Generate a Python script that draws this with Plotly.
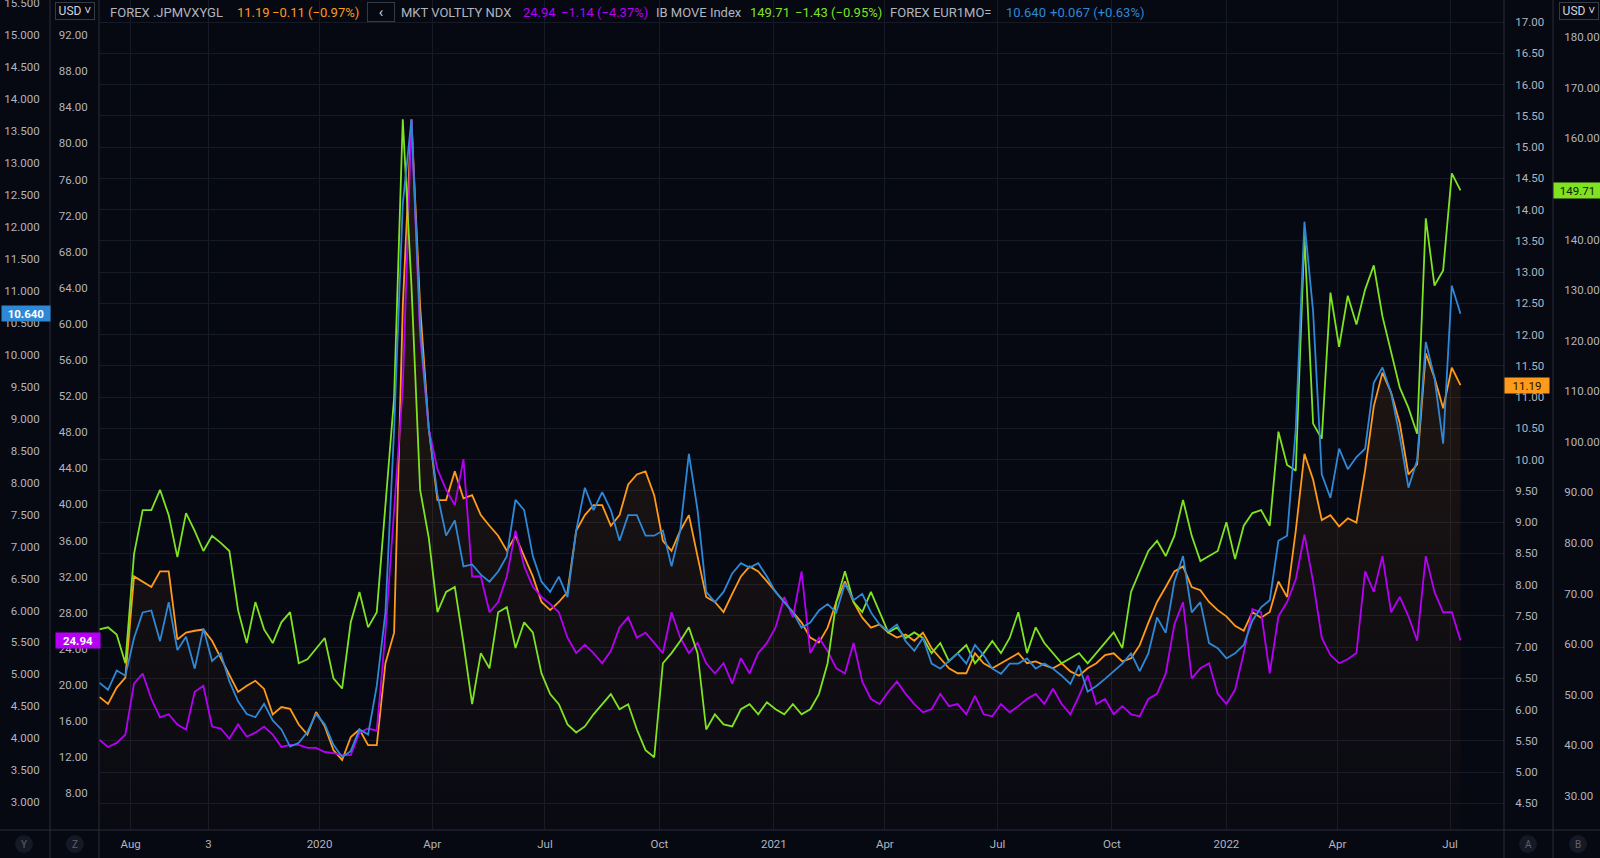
import pandas as pd
import plotly.graph_objects as go

# ---------------- data (weekly samples) ----------------
dates = pd.date_range("2019-07-08", periods=158, freq="7D")

jpmvxygl = [6.20, 6.09, 6.35, 6.51, 8.13, 8.05, 7.96, 8.21, 8.21, 7.12, 7.23, 7.26, 7.28, 7.10, 6.82, 6.54, 6.28, 6.38, 6.46, 6.33,
            5.92, 6.04, 6.01, 5.76, 5.60, 5.96, 5.73, 5.35, 5.19, 5.56, 5.68, 5.43, 5.43, 6.74, 7.23, 12.45, 15.44, 12.45, 10.49, 9.35,
            9.35, 9.81, 9.38, 9.43, 9.11, 8.94, 8.78, 8.54, 8.78, 8.45, 8.13, 7.72, 7.59, 7.72, 7.88, 8.86, 9.11, 9.27, 9.27, 8.94,
            9.11, 9.60, 9.76, 9.81, 9.43, 8.70, 8.54, 8.86, 9.11, 8.45, 7.80, 7.72, 7.56, 7.85, 8.13, 8.29, 8.21, 8.05, 7.88, 7.72,
            7.56, 7.39, 7.15, 7.07, 7.31, 7.72, 8.05, 7.72, 7.47, 7.31, 7.36, 7.23, 7.15, 7.20, 7.10, 7.23, 6.98, 6.82, 6.66, 6.58,
            6.58, 6.90, 6.74, 6.66, 6.74, 6.82, 6.90, 6.74, 6.77, 6.71, 6.66, 6.74, 6.61, 6.54, 6.66, 6.74, 6.87, 6.90, 6.77, 6.82,
            7.03, 7.39, 7.72, 7.96, 8.21, 8.29, 7.96, 7.91, 7.72, 7.59, 7.49, 7.34, 7.26, 7.56, 7.47, 7.56, 8.05, 7.80, 8.86, 10.09,
            9.68, 9.03, 9.11, 8.93, 9.06, 8.99, 9.83, 10.85, 11.39, 11.07, 10.58, 9.76, 9.92, 11.70, 11.31, 10.82, 11.47, 11.19]

ndx_vol = [13.93, 13.14, 13.59, 14.50, 20.15, 21.28, 18.45, 16.42, 16.76, 15.63, 15.06, 19.25, 19.92, 15.40, 15.18, 14.05, 15.63, 14.27, 14.72, 15.40,
           14.50, 13.14, 13.37, 13.37, 13.03, 13.03, 12.58, 12.46, 12.24, 12.24, 14.72, 15.18, 14.95, 25.80, 39.36, 52.93, 82.66, 58.58, 48.41, 43.89,
           41.63, 39.93, 45.02, 32.02, 32.02, 28.06, 29.19, 32.02, 37.10, 33.15, 30.89, 29.76, 28.97, 28.06, 25.24, 23.54, 24.45, 23.54, 22.41, 23.77,
           26.37, 27.50, 25.24, 25.80, 24.67, 23.54, 28.06, 25.24, 23.54, 24.67, 22.41, 21.28, 22.41, 20.15, 22.98, 21.28, 23.54, 24.67, 26.37, 29.76,
           27.50, 32.58, 23.54, 25.24, 23.77, 21.85, 21.28, 24.67, 20.38, 18.45, 17.89, 19.25, 20.38, 19.02, 17.89, 16.98, 17.32, 19.02, 17.66, 17.89,
           16.76, 18.79, 16.76, 16.53, 17.89, 16.98, 17.66, 18.45, 19.02, 17.89, 19.58, 17.89, 16.76, 18.79, 21.05, 17.89, 18.45, 16.76, 17.66, 16.76,
           16.53, 18.45, 19.02, 21.28, 26.71, 29.19, 20.72, 21.85, 22.41, 19.02, 17.89, 19.47, 23.54, 28.40, 28.06, 21.28, 27.61, 29.19, 31.68, 36.65,
           31.45, 25.24, 23.32, 22.41, 22.86, 23.54, 32.58, 30.32, 34.28, 28.06, 29.76, 27.61, 24.90, 34.28, 30.32, 28.06, 28.06, 24.94]

move_idx = [62.9, 63.3, 61.9, 56.2, 77.8, 86.5, 86.5, 90.5, 85.5, 77.2, 85.9, 82.4, 78.4, 81.4, 80.0, 78.4, 66.7, 60.2, 68.3, 62.9,
            60.2, 64.3, 66.3, 56.2, 57.0, 59.2, 61.2, 53.2, 51.2, 64.3, 70.3, 63.3, 66.3, 87.5, 108.7, 163.8, 130.9, 90.5, 81.0, 66.3,
            70.3, 71.3, 60.2, 48.1, 58.2, 55.2, 66.3, 67.3, 59.2, 64.3, 62.3, 54.2, 50.1, 48.1, 44.1, 42.5, 43.7, 46.1, 48.1, 50.1,
            47.1, 48.1, 43.1, 39.0, 37.6, 56.2, 58.2, 60.6, 63.3, 58.2, 43.1, 46.1, 44.1, 43.7, 47.1, 48.1, 46.1, 48.5, 47.1, 46.1,
            48.1, 46.1, 47.1, 50.1, 56.2, 68.3, 74.4, 68.3, 66.3, 70.3, 66.3, 62.3, 63.3, 61.2, 62.3, 61.2, 58.2, 60.2, 56.6, 58.2,
            59.8, 56.2, 58.2, 60.6, 58.2, 61.2, 66.3, 58.2, 63.3, 60.2, 58.2, 56.2, 57.2, 58.2, 56.2, 58.2, 60.2, 62.3, 59.2, 70.3,
            74.4, 78.4, 80.4, 77.4, 81.4, 88.5, 81.4, 76.4, 77.4, 78.4, 84.1, 76.8, 83.4, 85.9, 86.5, 83.4, 102.0, 95.4, 94.3, 140.8,
            103.6, 100.6, 129.5, 118.8, 128.9, 123.2, 130.1, 134.9, 124.8, 117.6, 110.7, 106.7, 101.6, 144.2, 130.9, 133.9, 153.1, 149.71]

eur1mo = [4.87, 4.76, 5.06, 4.98, 5.57, 5.97, 6.00, 5.52, 6.13, 5.38, 5.59, 5.09, 5.72, 5.21, 5.33, 4.89, 4.58, 4.38, 4.33, 4.54,
          4.28, 4.14, 3.87, 3.93, 4.10, 4.38, 4.22, 3.90, 3.71, 3.80, 4.14, 4.06, 4.82, 5.97, 8.84, 12.36, 13.68, 10.44, 8.84, 7.81,
          7.17, 7.41, 6.69, 6.72, 6.56, 6.45, 6.61, 6.85, 7.73, 7.57, 6.85, 6.45, 6.29, 6.53, 6.21, 7.25, 7.92, 7.57, 7.85, 7.57,
          7.09, 7.49, 7.49, 7.17, 7.17, 7.25, 6.69, 7.25, 8.45, 7.57, 6.29, 6.13, 6.29, 6.58, 6.74, 6.67, 6.74, 6.53, 6.29, 6.13,
          5.97, 5.73, 5.81, 6.00, 6.10, 5.97, 6.42, 6.16, 6.26, 5.97, 5.78, 5.68, 5.78, 5.52, 5.37, 5.57, 5.17, 5.09, 5.21, 5.33,
          5.17, 5.46, 5.30, 5.09, 5.01, 5.17, 5.17, 5.25, 5.09, 5.17, 5.09, 4.98, 4.85, 5.14, 4.73, 4.82, 4.93, 5.05, 5.17, 5.33,
          5.05, 5.33, 5.89, 5.65, 6.45, 6.85, 5.97, 6.13, 5.49, 5.41, 5.25, 5.33, 5.46, 5.84, 6.05, 6.16, 7.09, 7.17, 8.84, 12.08,
          10.68, 8.13, 7.76, 8.53, 8.21, 8.40, 8.53, 9.56, 9.80, 9.40, 8.72, 7.92, 8.35, 10.20, 9.64, 8.61, 11.08, 10.64]

x_tick_dates = ["2019-08-01", "2019-10-03", "2020-01-01", "2020-04-01", "2020-07-01", "2020-10-01", "2021-01-01",
                "2021-04-01", "2021-07-01", "2021-10-01", "2022-01-03", "2022-04-01", "2022-07-01"]
x_tick_text = ["Aug", "3", "2020", "Apr", "Jul", "Oct", "2021", "Apr", "Jul", "Oct", "2022", "Apr", "Jul"]

jpm_ticks = [4.5 + 0.5 * i for i in range(26)]
ndx_ticks = [8 + 4 * i for i in range(22)]
move_ticks = [30 + 10 * i for i in range(16)]
eur_ticks = [3.0 + 0.5 * i for i in range(26)]

# ---------------- style ----------------
W, H = 1600, 858
PLOT_BOTTOM = 830
BG = "#060812"
GRID = "#161a26"
SEP = "#2a2e39"
TXT = "#b2b5be"
C_OR = "#ff9a1a"
C_MA = "#b600f5"
C_GR = "#7fe321"
C_BL = "#2e88d6"
FONT = "Roboto, 'Liberation Sans', sans-serif"


def px(x):
    return x / W


def py(y):
    return (PLOT_BOTTOM - y) / PLOT_BOTTOM


fig = go.Figure()
fig.add_trace(go.Scatter(
    x=dates, y=jpmvxygl, yaxis="y", mode="lines", line=dict(color=C_OR, width=1.8),
    fill="tozeroy",
    fillgradient=dict(type="vertical",
                      colorscale=[[0, "rgba(255,150,20,0.01)"], [1, "rgba(255,150,20,0.10)"]],
                      start=4.0, stop=12.0),
    hoverinfo="skip"))
fig.add_trace(go.Scatter(x=dates, y=ndx_vol, yaxis="y2", mode="lines",
                         line=dict(color=C_MA, width=1.8), hoverinfo="skip"))
fig.add_trace(go.Scatter(x=dates, y=move_idx, yaxis="y3", mode="lines",
                         line=dict(color=C_GR, width=1.8), hoverinfo="skip"))
fig.add_trace(go.Scatter(x=dates, y=eur1mo, yaxis="y4", mode="lines",
                         line=dict(color=C_BL, width=1.8), hoverinfo="skip"))

ytick_common = dict(showgrid=False, zeroline=False, showline=False, ticks="outside", ticklen=8,
                    tickcolor="rgba(0,0,0,0)", tickfont=dict(size=11.5, color=TXT, family=FONT),
                    automargin=False, fixedrange=True, ticklabeloverflow="allow")

fig.update_layout(
    width=W, height=H, margin=dict(l=0, r=0, t=0, b=H - PLOT_BOTTOM),
    paper_bgcolor=BG, plot_bgcolor=BG, showlegend=False,
    font=dict(family=FONT, color=TXT, size=12),
    xaxis=dict(type="date", domain=[px(99), px(1504)],
               range=["2019-07-05 19:12", "2022-08-15 02:24"],
               rangebreaks=[dict(bounds=["sat", "mon"])],
               tickmode="array", tickvals=x_tick_dates, ticktext=x_tick_text,
               showgrid=True, gridcolor=GRID, gridwidth=1, zeroline=False, showline=False,
               ticks="outside", ticklen=3, tickcolor="rgba(0,0,0,0)",
               tickfont=dict(size=11.5, color=TXT, family=FONT), automargin=False, fixedrange=True),
    yaxis=dict(side="right", anchor="x", range=[4.072, 17.352],
               tickmode="array", tickvals=jpm_ticks, ticktext=[f"{v:.2f}" for v in jpm_ticks],
               **{**ytick_common, "showgrid": True}, gridcolor=GRID, gridwidth=1),
    yaxis2=dict(overlaying="y", side="left", anchor="x", range=[3.94, 95.88],
                tickmode="array", tickvals=ndx_ticks, ticktext=[f"{v:.2f}" for v in ndx_ticks],
                **ytick_common),
    yaxis3=dict(overlaying="y", side="right", anchor="free", position=px(1553), range=[23.22, 187.38],
                tickmode="array", tickvals=move_ticks, ticktext=[f"{v:.2f}" for v in move_ticks],
                **ytick_common),
    yaxis4=dict(overlaying="y", side="left", anchor="free", position=px(50), range=[2.567, 15.547],
                tickmode="array", tickvals=eur_ticks, ticktext=[f"{v:.3f}" for v in eur_ticks],
                **ytick_common),
)

# ---------------- separators / frame ----------------
shapes = []
for xv in (50, 99, 1504, 1553):
    shapes.append(dict(type="line", xref="paper", yref="paper", x0=px(xv), x1=px(xv),
                       y0=py(H), y1=1, line=dict(color=SEP, width=1), layer="above"))
shapes.append(dict(type="line", xref="paper", yref="paper", x0=0, x1=1, y0=0, y1=0,
                   line=dict(color=SEP, width=1), layer="above"))
# bottom round buttons
for cx in (24, 75, 1528, 1578):
    shapes.append(dict(type="circle", xref="paper", yref="paper",
                       x0=px(cx - 9), x1=px(cx + 9), y0=py(853), y1=py(835),
                       fillcolor="#151925", line=dict(width=0), layer="above"))
fig.update_layout(shapes=shapes)

ann = []
# bottom button letters
for cx, t in ((24, "Y"), (75, "Z"), (1528, "A"), (1578, "B")):
    ann.append(dict(xref="paper", yref="paper", x=px(cx), y=py(844), text=t, showarrow=False,
                    xanchor="center", yanchor="middle", font=dict(size=10, color="#5d6170", family=FONT)))

# header legend
HY = py(12.5)
header = [
    (108, "FOREX .JPMVXYGL", TXT), (235, "11.19", C_OR), (270, "\u22120.11 (\u22120.97%)", C_OR),
    (399, "MKT VOLTLTY NDX", TXT), (521, "24.94", C_MA), (559, "\u22121.14 (\u22124.37%)", C_MA),
    (654, "IB MOVE Index", TXT), (748, "149.71", C_GR), (793, "\u22121.43 (\u22120.95%)", C_GR),
    (888, "FOREX EUR1MO=", TXT), (1004, "10.640", C_BL), (1048, "+0.067 (+0.63%)", C_BL),
]
for xv, t, c in header:
    ann.append(dict(xref="paper", yref="paper", x=px(xv), y=HY, text=t, showarrow=False,
                    xanchor="left", yanchor="middle", font=dict(size=13, color=c, family=FONT)))

# header buttons
ann.append(dict(xref="paper", yref="paper", x=px(367), y=HY, text="\u2039", showarrow=False,
                xanchor="left", yanchor="middle", width=26, height=18, bgcolor=BG,
                bordercolor="#363a45", borderwidth=1, borderpad=0,
                font=dict(size=15, color="#d1d4dc", family=FONT)))
for xv in (55, 1559):
    ann.append(dict(xref="paper", yref="paper", x=px(xv), y=py(10.5), text="USD \u02c5", showarrow=False,
                    xanchor="left", yanchor="middle", width=38, height=16, bgcolor=BG,
                    bordercolor="#363a45", borderwidth=1, borderpad=0,
                    font=dict(size=12, color="#d1d4dc", family=FONT)))

# last-value price tags on the scales
ann.append(dict(xref="paper", yref="y4", x=px(1), y=eur1mo[-1], text=f"<b>{eur1mo[-1]:.3f}</b>",
                showarrow=False, xanchor="left", yanchor="middle", width=48, height=15,
                bgcolor=C_BL, borderpad=0, font=dict(size=11.5, color="#ffffff", family=FONT)))
ann.append(dict(xref="paper", yref="y2", x=px(55), y=ndx_vol[-1], text=f"<b>{ndx_vol[-1]:.2f}</b>",
                showarrow=False, xanchor="left", yanchor="middle", width=44, height=15,
                bgcolor=C_MA, borderpad=0, font=dict(size=11.5, color="#ffffff", family=FONT)))
ann.append(dict(xref="paper", yref="y", x=px(1504), y=jpmvxygl[-1], text=f"{jpmvxygl[-1]:.2f}",
                showarrow=False, xanchor="left", yanchor="middle", width=44, height=15,
                bgcolor=C_OR, borderpad=0, font=dict(size=11.5, color="#1a1200", family=FONT)))
ann.append(dict(xref="paper", yref="y3", x=px(1553), y=move_idx[-1], text=f"{move_idx[-1]:.2f}",
                showarrow=False, xanchor="left", yanchor="middle", width=47, height=15,
                bgcolor=C_GR, borderpad=0, font=dict(size=11.5, color="#112200", family=FONT)))

fig.update_layout(annotations=ann)

fig.write_html("out.html", config={"displayModeBar": False},
               post_script="document.body.style.margin='0';document.body.style.overflow='hidden';")
